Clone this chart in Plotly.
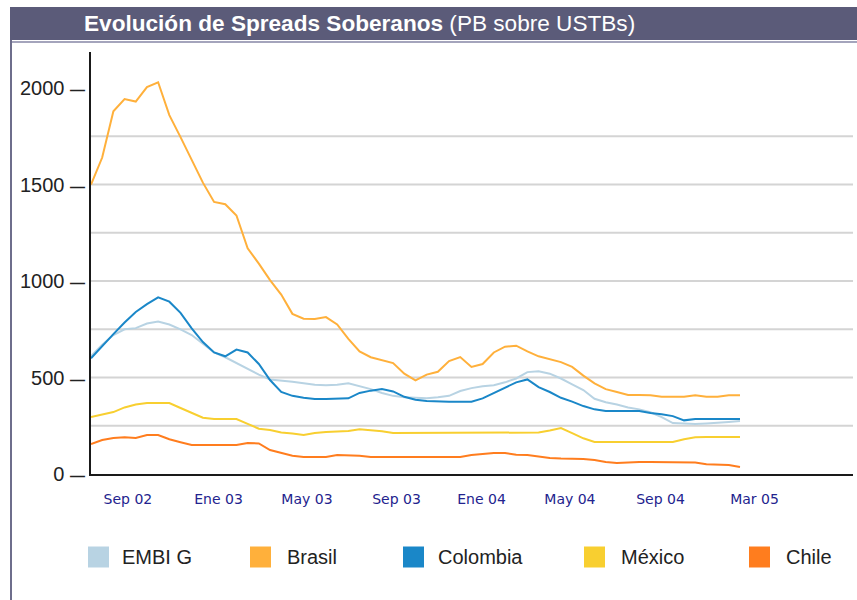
import plotly.graph_objects as go

# ---------------- data ----------------
series_names = ["EMBI G", "Brasil", "Colombia", "México", "Chile"]
series_colors = ["#b8d3e3", "#ffb03b", "#1a87c8", "#f8cf30", "#ff7d1e"]

periodo = list(range(59))  # half-month steps, Jul 2002 -> Jan 2005

embi_g = [610, 670, 720, 750, 756, 780, 790, 775, 750, 720,
          675, 630, 605, 575, 548, 515, 490, 485, 478, 470,
          462, 460, 462, 470, 455, 440, 420, 405, 398, 395,
          393, 398, 405, 430, 445, 455, 460, 475, 495, 528,
          533, 520, 495, 465, 435, 390, 372, 360, 345, 335,
          320, 295, 264, 262, 259, 262, 265, 270, 275]
brasil = [1500, 1640, 1880, 1943, 1930, 2005, 2030, 1860, 1746, 1625,
          1510, 1410, 1398, 1340, 1170, 1090, 1005, 930, 830, 805,
          803, 813, 775, 700, 635, 605, 590, 575, 520, 485,
          515, 530, 585, 606, 555, 570, 630, 660, 665, 635,
          610, 595, 580, 555, 510, 470, 440, 425, 410, 409,
          408, 400, 400, 400, 408, 400, 400, 408, 408]
colombia = [600, 665, 725, 785, 840, 880, 915, 893, 835, 755,
            684, 630, 610, 645, 630, 570, 487, 425, 405, 395,
            389, 389, 389, 392, 420, 432, 440, 428, 400, 385,
            378, 375, 375, 375, 375, 392, 420, 448, 475, 490,
            450, 425, 395, 375, 352, 335, 327, 326, 326, 326,
            316, 310, 300, 278, 285, 285, 285, 285, 285]
mexico = [295, 308, 321, 345, 360, 368, 368, 368, 342, 315,
          292, 285, 285, 285, 260, 235, 228, 215, 210, 202,
          212, 218, 220, 223, 232, 228, 222, 212, 212, 212,
          212, 212, 212, 212, 212, 212, 212, 212, 212, 212,
          215, 225, 238, 212, 185, 166, 166, 166, 166, 166,
          166, 166, 166, 180, 190, 192, 192, 192, 192]
chile = [155, 176, 187, 190, 187, 202, 202, 180, 165, 150,
         150, 150, 150, 150, 161, 158, 124, 108, 95, 88,
         88, 88, 98, 98, 95, 88, 88, 88, 88, 88,
         88, 88, 88, 88, 98, 105, 109, 109, 100, 98,
         90, 83, 80, 80, 78, 72, 62, 57, 60, 62,
         62, 62, 62, 62, 60, 50, 47, 47, 36]

tick_pos = [3.3, 11.4, 19.3, 27.3, 34.9, 42.8, 50.9, 59.3]
tick_labels = ["Sep 02", "Ene 03", "May 03", "Sep 03", "Ene 04", "May 04", "Sep 04", "Mar 05"]
y_ticks = [0, 500, 1000, 1500, 2000]
grid_levels = [250, 500, 750, 1000, 1250, 1500, 1750]

series_values = [embi_g, brasil, colombia, mexico, chile]

# ---------------- layout geometry (pixels) ----------------
W_FIG, H_FIG = 857, 600
ML, MR, MT, MB = 91, 4, 52, 126
PW = W_FIG - ML - MR
PH = H_FIG - MT - MB
BOTTOM = H_FIG - MB
y_range = [0, 2187]


def xp(px):
    return (px - ML) / PW


def yp(py):
    return (BOTTOM - py) / PH


FONT = "Liberation Sans, Arial, sans-serif"
AXIS_COLOR = "#1a1a1a"

# y labels carry their own detached tick dash, as in the original chart
y_ticktext = [f"{v} <span style='font-size:15px;font-weight:bold'>—</span>" for v in y_ticks]

fig = go.Figure()

for name, color, vals in zip(series_names, series_colors, series_values):
    fig.add_trace(go.Scatter(x=periodo, y=vals, mode="lines", name=name,
                             line=dict(color=color, width=2),
                             showlegend=False, hoverinfo="x+y+name"))

shapes = []
# gridlines
for g in grid_levels:
    shapes.append(dict(type="line", xref="paper", yref="y", x0=0, x1=1,
                       y0=g, y1=g, line=dict(color="#d4d4d4", width=2), layer="below"))
# title bar
shapes.append(dict(type="rect", xref="paper", yref="paper", x0=xp(10), x1=xp(858),
                   y0=yp(40), y1=yp(7), fillcolor="#5b5b79", line=dict(width=0)))
shapes.append(dict(type="line", xref="paper", yref="paper", x0=xp(10), x1=xp(858),
                   y0=yp(42), y1=yp(42), line=dict(color="#a4a4bc", width=2)))
# left frame line
shapes.append(dict(type="line", xref="paper", yref="paper", x0=xp(11), x1=xp(11),
                   y0=yp(40), y1=yp(601), line=dict(color="#6e6e8c", width=2)))

# custom legend
legend_swatch_px = [88, 250, 403, 584, 749]
legend_text_px = [120, 285, 436, 619, 784]
LEG_Y = 557
SW = 21
annotations = []
for name, color, sx, tx in zip(series_names, series_colors, legend_swatch_px, legend_text_px):
    shapes.append(dict(type="rect", xref="paper", yref="paper", x0=xp(sx), x1=xp(sx + SW),
                       y0=yp(LEG_Y + SW / 2), y1=yp(LEG_Y - SW / 2),
                       fillcolor=color, line=dict(width=0)))
    annotations.append(dict(text=name, xref="paper", yref="paper", x=xp(tx), y=yp(LEG_Y),
                            xanchor="left", yanchor="middle", showarrow=False,
                            font=dict(family=FONT, size=20, color="#222222")))

annotations.append(dict(text="<b>Evolución de Spreads Soberanos</b> (PB sobre USTBs)",
                        xref="paper", yref="paper", x=xp(82), y=yp(24),
                        xanchor="left", yanchor="middle", showarrow=False,
                        font=dict(family=FONT, size=22.6, color="#ffffff")))

fig.update_layout(
    width=W_FIG, height=H_FIG,
    margin=dict(l=ML, r=MR, t=MT, b=MB),
    paper_bgcolor="white", plot_bgcolor="white",
    showlegend=False,
    shapes=shapes, annotations=annotations,
    xaxis=dict(range=[0, 68.1], showgrid=False, zeroline=False,
               showline=True, linecolor=AXIS_COLOR, linewidth=2, ticks="",
               tickmode="array", tickvals=tick_pos, ticktext=tick_labels,
               tickfont=dict(family="DejaVu Sans, Verdana, sans-serif", size=14, color="#23238e"),
               ticklabelstandoff=11),
    yaxis=dict(range=y_range, showgrid=False, zeroline=False, showline=True,
               linecolor=AXIS_COLOR, linewidth=2, ticks="",
               tickmode="array", tickvals=y_ticks, ticktext=y_ticktext,
               tickfont=dict(family=FONT, size=20, color="#222222"),
               ticklabelstandoff=0),
)

fig.write_html("out.html", config={"displayModeBar": False},
               post_script="document.body.style.margin='0px';")
